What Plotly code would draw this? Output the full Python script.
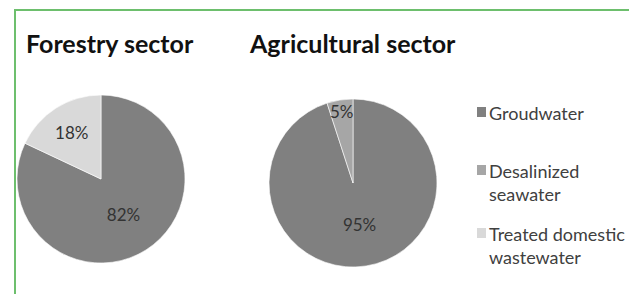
import plotly.graph_objects as go

sources = ["Groudwater", "Desalinized seawater", "Treated domestic wastewater"]
legend_text = ["Groudwater", "Desalinized<br>seawater", "Treated domestic<br>wastewater"]
colors = ["#808080", "#a6a6a6", "#d9d9d9"]

forestry_labels = ["Groudwater", "Treated domestic wastewater"]
forestry_values = [82, 18]
agri_labels = ["Groudwater", "Desalinized seawater"]
agri_values = [95, 5]

cmap = dict(zip(sources, colors))
W, H = 629, 286   # page body has an 8px margin
OFF = 8
FONT = "Lato, Open Sans, sans-serif"

def px(x):
    return (x - OFF) / W

def py(y):
    return 1 - (y - OFF) / H

def dom(cx, cy, r):
    return dict(x=[px(cx - r), px(cx + r)], y=[py(cy + r), py(cy - r)])

fig = go.Figure()
for labels, values, d in [(forestry_labels, forestry_values, dom(101, 179, 84)),
                          (agri_labels, agri_values, dom(353, 183, 84))]:
    fig.add_trace(go.Pie(
        labels=labels, values=values, sort=False, direction="clockwise",
        rotation=0, domain=d,
        marker=dict(colors=[cmap[l] for l in labels], line=dict(color="white", width=0.6)),
        textinfo="percent", textposition="inside", insidetextorientation="horizontal",
        textfont=dict(family=FONT, size=17, color="#333333"), showlegend=False,
    ))

# titles
for txt, x in [("<b>Forestry sector</b>", 24), ("<b>Agricultural sector</b>", 247)]:
    fig.add_annotation(text=txt, x=px(x), y=py(43), xref="paper", yref="paper",
                       xanchor="left", yanchor="middle", showarrow=False,
                       font=dict(family=FONT, size=25, color="#111111"))

# legend
leg_y = [112, 170, 233]
for name, txt, y in zip(sources, legend_text, leg_y):
    fig.add_shape(type="rect", xref="paper", yref="paper",
                  x0=px(477), x1=px(486), y0=py(y + 5), y1=py(y - 5),
                  fillcolor=cmap[name], line=dict(width=0))
    fig.add_annotation(text=txt, x=px(487), y=py(y - 12), xref="paper", yref="paper",
                       xanchor="left", yanchor="top", align="left", showarrow=False,
                       font=dict(family=FONT, size=18, color="#404040"))

# border
fig.add_shape(type="rect", xref="paper", yref="paper", x0=px(15), x1=px(631), y0=-0.1, y1=py(10),
              line=dict(color="#6dbf6d", width=2), fillcolor="rgba(0,0,0,0)")

fig.update_layout(width=W, height=H, margin=dict(l=0, r=0, t=0, b=0),
                  paper_bgcolor="white", plot_bgcolor="white",
                  uniformtext=dict(minsize=17, mode="show"))
fig.write_html("out.html")
